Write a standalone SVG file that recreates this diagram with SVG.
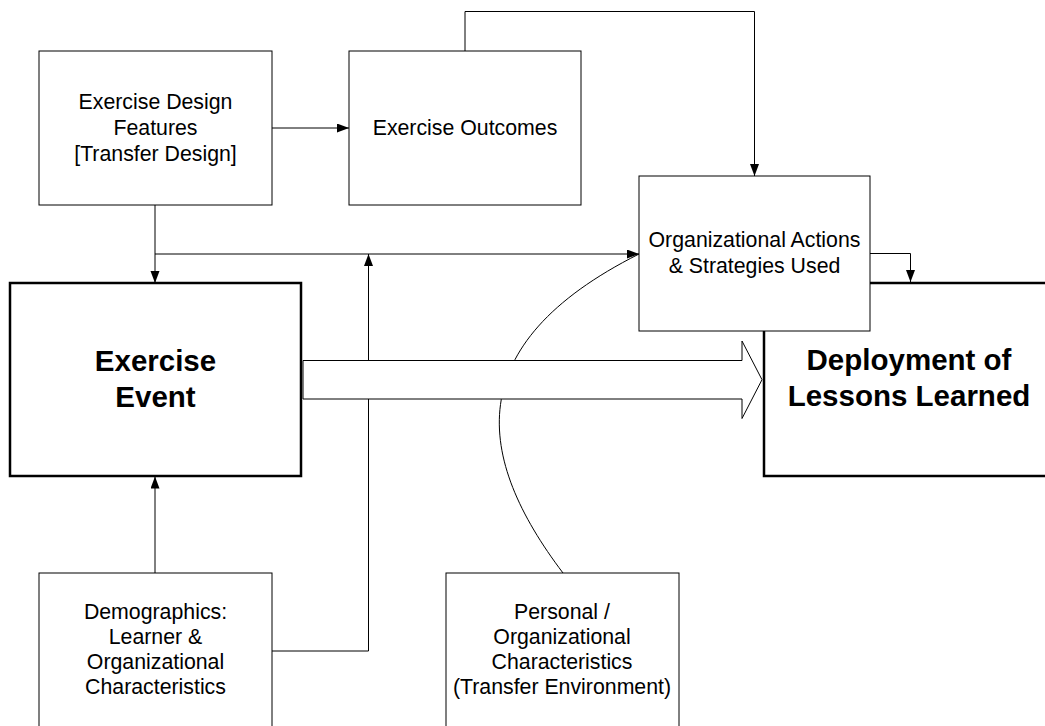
<svg xmlns="http://www.w3.org/2000/svg" width="1045" height="726" viewBox="0 0 1045 726">
<defs>
<style>
.box{fill:#fff;stroke:#000;stroke-width:1}
.main{fill:#fff;stroke:#000;stroke-width:2.5}
.t{font-family:"Liberation Sans",Arial,sans-serif;font-size:21.3px;fill:#000;text-anchor:middle}
.b{font-family:"Liberation Sans",Arial,sans-serif;font-size:29.5px;font-weight:bold;fill:#000;text-anchor:middle}
.c{fill:none;stroke:#000;stroke-width:1}
</style>
<marker id="ah" markerUnits="userSpaceOnUse" markerWidth="12" markerHeight="10" refX="12" refY="4.5" orient="auto">
<path d="M0,0 L12,4.5 L0,9 z" fill="#000"/>
</marker>
</defs>
<rect width="1045" height="726" fill="#fff"/>
<g id="deployment">
<rect class="main" x="764" y="283" width="300" height="193"/>
<text class="b" x="909" y="370">Deployment of</text>
<text class="b" x="909" y="406">Lessons Learned</text>
</g>
<g id="connectors">
<path class="c" d="M155,205 L155,283" marker-end="url(#ah)"/>
<path class="c" d="M155,254 L639,254" marker-end="url(#ah)"/>
<path class="c" d="M272,128 L349,128" marker-end="url(#ah)"/>
<path class="c" d="M465,51 L465,11.5 L754.5,11.5 L754.5,176" marker-end="url(#ah)"/>
<path class="c" d="M272,651 L368.5,651 L368.5,254" marker-end="url(#ah)"/>
<path class="c" d="M155,573 L155,476.5" marker-end="url(#ah)"/>
<path class="c" d="M870,253.5 L910.5,253.5 L910.5,282" marker-end="url(#ah)"/>
<path class="c" d="M563,573 C476,458 458,345 639,254"/>
</g>
<g id="block-arrow">
<path d="M303,360.5 L742,360.5 L742,341 L762,379.7 L742,418.5 L742,399 L303,399 z" fill="#fff" stroke="#000" stroke-width="1"/>
</g>
<g id="design">
<rect class="box" x="39" y="51" width="233" height="154"/>
<text class="t" x="155.5" y="109">Exercise Design</text>
<text class="t" x="155.5" y="135">Features</text>
<text class="t" x="155.5" y="161">[Transfer Design]</text>
</g>
<g id="outcomes">
<rect class="box" x="349" y="51" width="232" height="154"/>
<text class="t" x="465" y="135">Exercise Outcomes</text>
</g>
<g id="org-actions">
<rect class="box" x="639" y="176" width="231" height="155"/>
<text class="t" x="754.5" y="247">Organizational Actions</text>
<text class="t" x="754.5" y="273">&amp; Strategies Used</text>
</g>
<g id="exercise-event">
<rect class="main" x="10" y="283" width="291" height="193"/>
<text class="b" x="155.5" y="370.5">Exercise</text>
<text class="b" x="155.5" y="406.5">Event</text>
</g>
<g id="demographics">
<rect class="box" x="39" y="573" width="233" height="170"/>
<text class="t" x="155.5" y="619">Demographics:</text>
<text class="t" x="155.5" y="644">Learner &amp;</text>
<text class="t" x="155.5" y="669">Organizational</text>
<text class="t" x="155.5" y="694">Characteristics</text>
</g>
<g id="personal">
<rect class="box" x="446" y="573" width="233" height="170"/>
<text class="t" x="562" y="619">Personal /</text>
<text class="t" x="562" y="644">Organizational</text>
<text class="t" x="562" y="669">Characteristics</text>
<text class="t" x="562" y="694">(Transfer Environment)</text>
</g>
</svg>
